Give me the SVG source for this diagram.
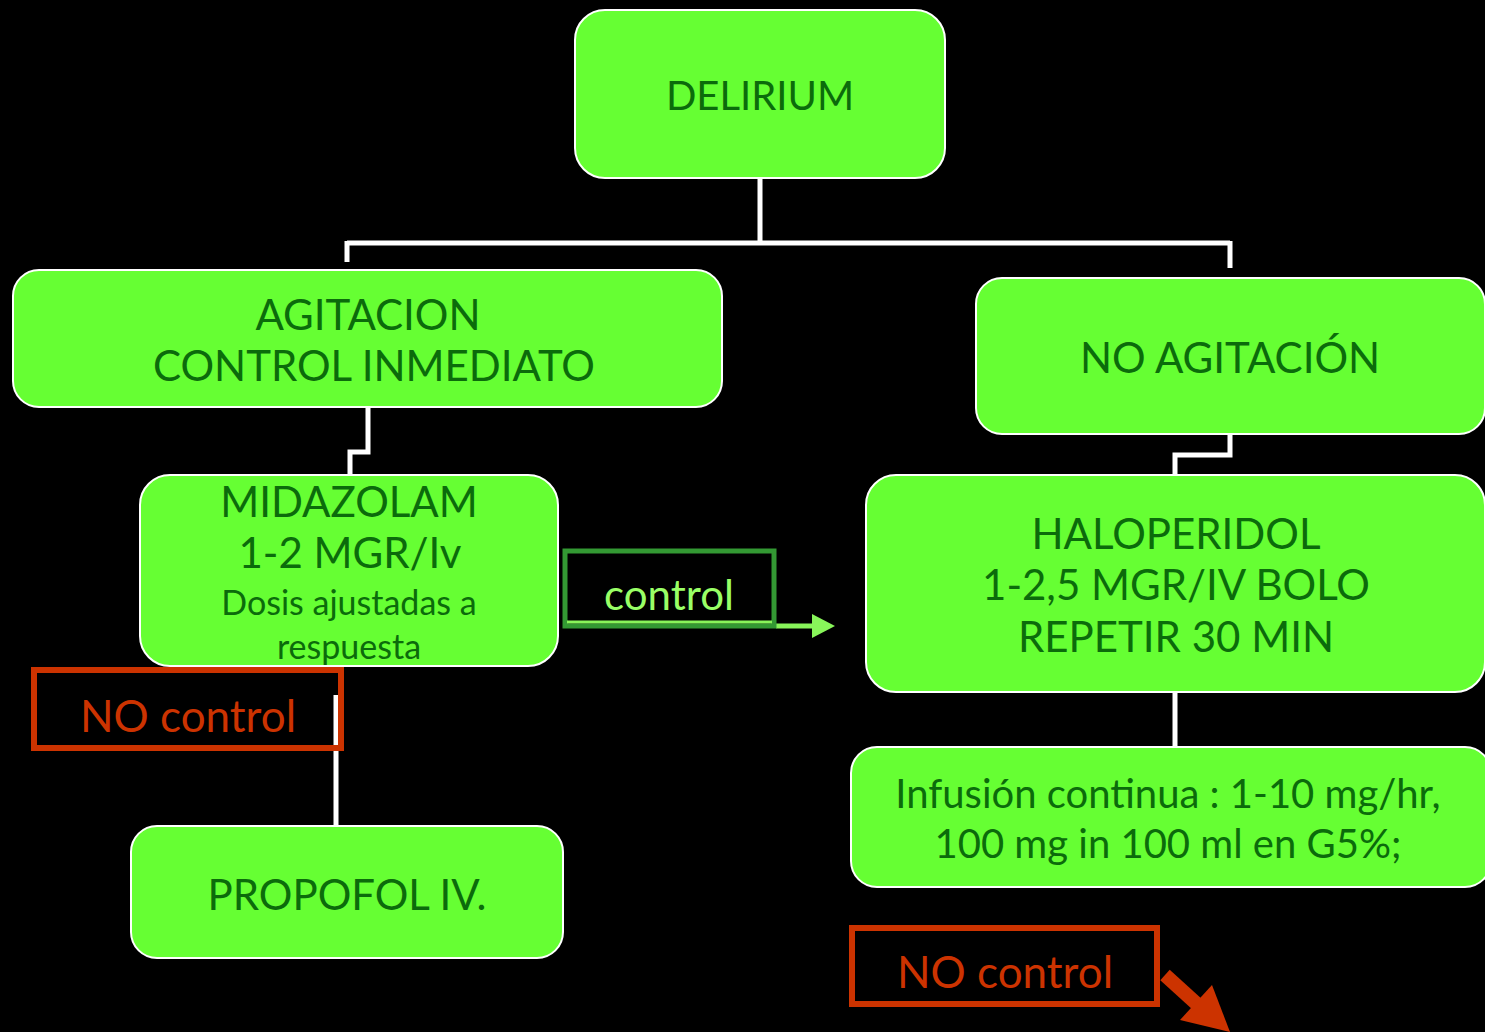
<svg xmlns="http://www.w3.org/2000/svg" width="1485" height="1032" viewBox="0 0 1485 1032">
<style>
.n{fill:#66ff33;stroke:#ffffff;stroke-width:2}
.t{font-family:"Lato","Liberation Sans",sans-serif;fill:#0b6b0b;text-anchor:middle}
.c{fill:none;stroke:#ffffff;stroke-width:5}
.red{fill:none;stroke:#cc3300;stroke-width:6}
.rt{font-family:"Lato","Liberation Sans",sans-serif;fill:#cc3300;text-anchor:middle;font-size:44px}
</style>
<defs>
<marker id="ga" markerWidth="10" markerHeight="10" refX="8" refY="5" orient="auto" markerUnits="userSpaceOnUse" viewBox="0 0 10 10"><path d="M0,0 L10,5 L0,10 Z" fill="#88f55a"/></marker>
</defs>
<rect width="1485" height="1032" fill="#000"/>
<g id="connectors">
<path class="c" d="M760,178 V243 M347,243 H1230 M347,241 V262 M1230,241 V268"/>
<path class="c" d="M368,407 V452 H350 V475"/>
<path class="c" d="M1230,434 V455 H1175 V475"/>
<path class="c" d="M1175,692 V747"/>
<path class="c" d="M336,695 V826"/>
<line x1="776" y1="626" x2="818" y2="626" stroke="#88f55a" stroke-width="5"/>
<path d="M812,614 L835,626 L812,638 Z" fill="#88f55a"/>
<path d="M1165,975 L1198,1005" stroke="#cc3300" stroke-width="14" fill="none"/>
<path d="M1180,1020 L1212,985 L1230,1032 Z" fill="#cc3300"/>
</g>
<g id="delirium"><rect class="n" x="575" y="10" width="370" height="168" rx="30"/><text class="t" x="760" y="110" font-size="40">DELIRIUM</text></g>
<g id="agitacion"><rect class="n" x="13" y="270" width="709" height="137" rx="26"/><text class="t" x="368" y="330" font-size="42">AGITACION</text><text class="t" x="374" y="381" font-size="42">CONTROL INMEDIATO</text></g>
<g id="noagitacion"><rect class="n" x="976" y="278" width="509" height="156" rx="26"/><text class="t" x="1230" y="373" font-size="42">NO AGITACIÓN</text></g>
<g id="midazolam"><rect class="n" x="140" y="475" width="418" height="191" rx="30"/><text class="t" x="349" y="517" font-size="42">MIDAZOLAM</text><text class="t" x="350" y="568" font-size="42">1-2 MGR/Iv</text><text class="t" x="349" y="615" font-size="34">Dosis ajustadas a</text><text class="t" x="349" y="659" font-size="34">respuesta</text></g>
<g id="haloperidol"><rect class="n" x="866" y="475" width="619" height="217" rx="30"/><text class="t" x="1176" y="549" font-size="42">HALOPERIDOL</text><text class="t" x="1176" y="600" font-size="42">1-2,5 MGR/IV BOLO</text><text class="t" x="1176" y="652" font-size="42">REPETIR 30 MIN</text></g>
<g id="infusion"><rect class="n" x="851" y="747" width="640" height="140" rx="26"/><text class="t" x="1168" y="808" font-size="40">Infusión continua : 1-10 mg/hr,</text><text class="t" x="1168" y="858" font-size="40">100 mg in 100 ml en G5%;</text></g>
<g id="propofol"><rect class="n" x="131" y="826" width="432" height="132" rx="26"/><text class="t" x="347" y="910" font-size="42">PROPOFOL IV.</text></g>
<g id="control"><rect x="565" y="551" width="209" height="75" fill="#000" stroke="#339933" stroke-width="5"/><line x1="567" y1="622" x2="772" y2="622" stroke="#88f55a" stroke-width="3"/><text x="669" y="610" font-family="Lato,'Liberation Sans',sans-serif" font-size="42" fill="#99ff66" text-anchor="middle">control</text></g>
<g id="nocontrol1"><rect class="red" x="34" y="670" width="307" height="78" fill="#000"/><text class="rt" x="188" y="732">NO control</text></g>
<g id="nocontrol2"><rect class="red" x="852" y="928" width="305" height="76"/><text class="rt" x="1005" y="988">NO control</text></g>
</svg>
